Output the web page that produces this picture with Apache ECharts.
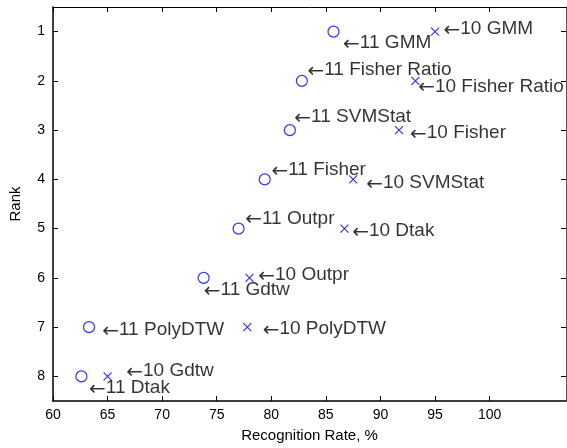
<!DOCTYPE html>
<html><head><meta charset="utf-8">
<script src="https://cdn.jsdelivr.net/npm/echarts@6/dist/echarts.min.js"></script>
<style>html,body{margin:0;padding:0;background:#fff}#c{width:567px;height:448px}</style>
</head><body><div id="c"></div>
<script>
// Ranks (y) and tick values
const ranks = [1, 2, 3, 4, 5, 6, 7, 8];
const xTicks = [60, 65, 70, 75, 80, 85, 90, 95, 100];
// Series "11" (circles)
const names11 = ['GMM', 'Fisher Ratio', 'SVMStat', 'Fisher', 'Outpr', 'Gdtw', 'PolyDTW', 'Dtak'];
const rate11 = [85.7, 82.8, 81.7, 79.4, 77.0, 73.8, 63.3, 62.6];
// Series "10" (crosses)
const names10 = ['GMM', 'Fisher Ratio', 'Fisher', 'SVMStat', 'Dtak', 'Outpr', 'PolyDTW', 'Gdtw'];
const rate10 = [95.0, 93.2, 91.7, 87.5, 86.7, 78.0, 77.8, 65.0];
// Text annotation anchors (data coordinates, as placed with text())
const label11X = [86.67, 83.4, 82.2, 80.1, 77.7, 73.9, 64.6, 63.4];
const label11Y = [1.22, 1.77, 2.72, 3.8, 4.79, 6.25, 7.06, 8.23];
const label10X = [95.87, 93.55, 92.8, 88.78, 87.5, 78.9, 79.3, 66.8];
const label10Y = [0.95, 2.11, 3.06, 4.06, 5.05, 5.94, 7.03, 7.89];

const FONT = 'Liberation Sans, Arial, Helvetica, sans-serif';
const blue = '#0000ff';

const pts11 = rate11.map((v, i) => [v, ranks[i]]);
const pts10 = rate10.map((v, i) => [v, ranks[i]]);
const lab11 = names11.map((n, i) => ({ value: [label11X[i], label11Y[i]], name: '11 ' + n }));
const lab10 = names10.map((n, i) => ({ value: [label10X[i], label10Y[i]], name: '10 ' + n }));

const chart = echarts.init(document.getElementById('c'), null, { renderer: 'canvas' });
const tickStyle = { show: true, inside: true, length: 5, lineStyle: { color: '#000', width: 1 } };
chart.setOption({
  animation: false,
  backgroundColor: '#fff',
  grid: { left: 47, right: 1, top: 7, bottom: 44, containLabel: false },
  xAxis: [{
    type: 'value', min: 60, max: 107, position: 'bottom',
    name: 'Recognition Rate, %', nameLocation: 'middle', nameGap: 27,
    nameTextStyle: { fontFamily: FONT, fontSize: 15, color: '#000' },
    axisLine: { show: true, onZero: false, lineStyle: { color: '#000', width: 1.5 } },
    axisTick: Object.assign({}, tickStyle, { customValues: xTicks }),
    axisLabel: { customValues: xTicks, fontFamily: FONT, fontSize: 14, color: '#000', margin: 7 },
    splitLine: { show: false }
  }, {
    type: 'value', min: 60, max: 107, position: 'top',
    axisLine: { show: true, onZero: false, lineStyle: { color: '#000', width: 1 } },
    axisTick: Object.assign({}, tickStyle, { customValues: xTicks }),
    axisLabel: { show: false }, splitLine: { show: false }
  }],
  yAxis: [{
    type: 'value', min: 0.5, max: 8.5, inverse: true, position: 'left',
    name: 'Rank', nameLocation: 'middle', nameGap: 30, nameRotate: 90,
    nameTextStyle: { fontFamily: FONT, fontSize: 15, color: '#000' },
    axisLine: { show: true, onZero: false, lineStyle: { color: '#000', width: 1.5 } },
    axisTick: Object.assign({}, tickStyle, { customValues: ranks }),
    axisLabel: { customValues: ranks, fontFamily: FONT, fontSize: 14, color: '#000', margin: 8 },
    splitLine: { show: false }
  }, {
    type: 'value', min: 0.5, max: 8.5, inverse: true, position: 'right',
    axisLine: { show: true, onZero: false, lineStyle: { color: '#555', width: 1 } },
    axisTick: Object.assign({}, tickStyle, { customValues: ranks }),
    axisLabel: { show: false }, splitLine: { show: false }
  }],
  series: [{
    type: 'scatter', xAxisIndex: 0, yAxisIndex: 0, data: pts11,
    symbol: 'circle', symbolSize: 11,
    itemStyle: { color: 'rgba(0,0,0,0)', borderColor: blue, borderWidth: 1.2 }
  }, {
    type: 'scatter', xAxisIndex: 0, yAxisIndex: 0, data: pts10,
    symbol: 'path://M0,0L10,10M10,0L0,10', symbolSize: 8,
    itemStyle: { color: 'rgba(0,0,0,0)', borderColor: blue, borderWidth: 1.2 }
  }, {
    type: 'scatter', xAxisIndex: 0, yAxisIndex: 0, data: lab11.concat(lab10),
    symbolSize: 0, silent: true,
    label: { show: true, position: 'right', distance: -1,
      formatter: p => '{a|\u2190}{t|' + p.name + '}',
      align: 'left', verticalAlign: 'middle',
      rich: {
        a: { fontFamily: 'DejaVu Sans', fontSize: 20, color: '#000', verticalAlign: 'middle', padding: [4, 0, 0, 0] },
        t: { fontFamily: FONT, fontSize: 19, color: '#000', verticalAlign: 'middle' }
      } }
  }]
});
</script></body></html>
